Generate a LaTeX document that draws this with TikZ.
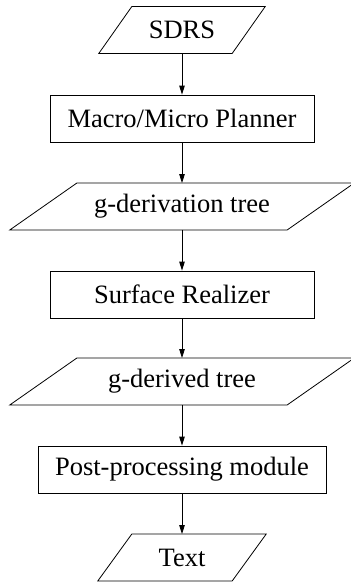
\documentclass[tikz,border=0pt]{standalone}
\usepackage{fontspec}
\setmainfont{Liberation Serif}
\usetikzlibrary{arrows.meta,calc}
\begin{document}
\begin{tikzpicture}[x=1pt,y=-1pt,
  txtfont/.style={font=\fontsize{26.5}{30}\selectfont},
  box/.style={draw, line width=0.8pt, minimum height=47pt, inner sep=0pt, txtfont},
  io/.style={minimum height=46.5pt, inner sep=0pt, txtfont},
  edge/.style={line width=0.8pt, line join=miter},
  arr/.style={-{Triangle[length=9pt,width=5.5pt]}, line width=0.8pt}]
\useasboundingbox (0,0) rectangle (351,582);
\node[io, minimum width=133pt] (sdrs) at (182,30) {SDRS};
\node[box, minimum width=264pt] (macro) at (182,118.5) {Macro/Micro Planner};
\node[io, minimum width=277pt] (gdt) at (182,206.5) {g-derivation tree};
\node[box, minimum width=264pt] (surf) at (182,294.5) {Surface Realizer};
\node[io, minimum width=277pt] (gd) at (182,381.5) {g-derived tree};
\node[box, minimum width=288pt] (post) at (182,469.5) {Post-processing module};
\node[io, minimum width=134pt] (txt) at (182,557.5) {Text};
\foreach \n/\s in {sdrs/16.5, gdt/33.5, gd/33.5, txt/17}{
  \draw[edge] ($(\n.north west)+(\s,0)$) -- ($(\n.north east)+(\s,0)$)
    -- ($(\n.south east)-(\s,0)$) -- ($(\n.south west)-(\s,0)$) -- cycle;
}
\draw[arr] (sdrs.south) -- (macro.north);
\draw[arr] (macro.south) -- (gdt.north);
\draw[arr] (gdt.south) -- (surf.north);
\draw[arr] (surf.south) -- (gd.north);
\draw[arr] (gd.south) -- (post.north);
\draw[arr] (post.south) -- (txt.north);
\end{tikzpicture}
\end{document}
